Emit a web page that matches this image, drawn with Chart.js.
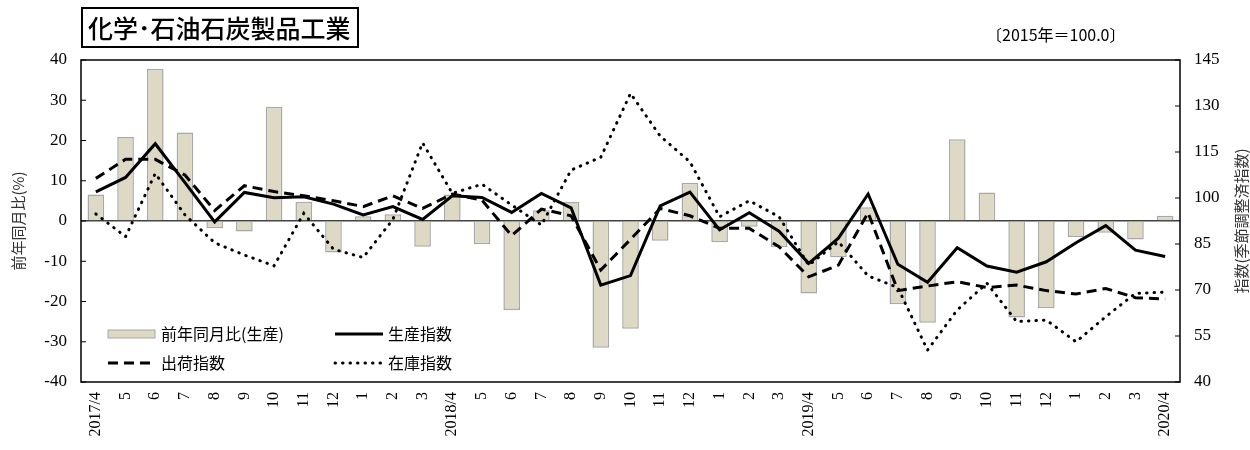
<!DOCTYPE html>
<html lang="ja">
<head>
<meta charset="utf-8">
<script src="https://cdn.jsdelivr.net/npm/chart.js@4.4.1/dist/chart.umd.min.js"></script>
<style>
  body { margin: 0; background: #fff; }
  #wrap { position: relative; width: 1250px; height: 450px; }
  #title {
    position: absolute; left: 81px; top: 7px; height: 37px; padding: 0 6px 0 5px;
    border: 2px solid #000; font-family: "Noto Sans CJK JP", sans-serif;
    font-size: 25px; line-height: 37px; font-weight: 500; color: #000;
  }
  #base {
    position: absolute; left: 986px; top: 22px;
    font-family: "Noto Sans CJK JP", sans-serif; font-size: 16px; color: #000;
  }
</style>
</head>
<body>
<div id="wrap">
  <canvas id="chart" width="1250" height="450"></canvas>
  <div id="title">化学･石油石炭製品工業</div>
  <div id="base">〔2015年＝100.0〕</div>
</div>
<script>
const months = ['2017/4', '5', '6', '7', '8', '9', '10', '11', '12', '1', '2', '3',
  '2018/4', '5', '6', '7', '8', '9', '10', '11', '12', '1', '2', '3',
  '2019/4', '5', '6', '7', '8', '9', '10', '11', '12', '1', '2', '3', '2020/4'];

// 前年同月比(生産) %
const yoyProduction = [6.6, 20.9, 37.8, 22.0, -1.8, -2.6, 28.4, 4.8, -7.8, 1.2, 1.7, -6.4,
  6.6, -5.8, -22.1, 2.7, 4.7, -31.5, -26.8, -4.9, 9.5, -5.3, -1.4, -6.5,
  -18.0, -9.0, 3.4, -20.7, -25.3, 20.3, 7.1, -24.0, -21.7, -4.0, -2.9, -4.6, 1.3];

// 指数 (季節調整済)
const productionIndex = [102.0, 106.7, 117.7, 105.0, 92.2, 101.8, 100.1, 100.4, 98.0, 94.5, 97.2, 93.0,
  100.7, 100.2, 95.3, 101.5, 96.8, 71.6, 74.7, 97.4, 101.9, 89.6, 95.2, 89.2,
  78.7, 86.9, 101.3, 78.4, 72.5, 83.8, 77.8, 75.8, 79.2, 85.4, 91.0, 83.0, 80.9];
const shipmentIndex = [106.4, 112.6, 112.6, 107.5, 95.9, 104.0, 102.1, 100.7, 99.1, 97.2, 100.7, 96.6,
  101.3, 99.3, 87.7, 96.4, 94.2, 76.5, 86.5, 96.6, 94.2, 90.1, 90.1, 84.1,
  74.3, 78.1, 95.2, 69.8, 71.3, 72.7, 70.8, 71.6, 69.8, 68.7, 70.5, 67.5, 67.1];
const inventoryIndex = [94.8, 87.4, 108.0, 94.5, 85.4, 81.4, 77.9, 95.0, 83.3, 80.6, 93.0, 118.0,
  101.5, 104.5, 97.7, 91.2, 109.1, 113.3, 134.1, 120.2, 111.8, 93.9, 99.1, 93.9,
  78.1, 85.7, 74.6, 70.8, 50.4, 63.5, 72.2, 59.7, 60.2, 53.1, 61.3, 68.9, 69.3];

const BAR_FILL = '#ddd9c4';
const BAR_EDGE = '#a8a8a8';
const SERIF = '"Liberation Serif", "DejaVu Serif", serif';
const JP = '"Noto Sans CJK JP", sans-serif';

// frame, inward tick marks, right axis title and the legend inside the plot
const framePlugin = {
  id: 'frame',
  afterDatasetsDraw(chart) {
    const { ctx, chartArea: a, scales } = chart;
    ctx.save();
    ctx.strokeStyle = '#000';
    ctx.lineWidth = 1.5;
    ctx.strokeRect(a.left, a.top, a.right - a.left, a.bottom - a.top);

    ctx.lineWidth = 1;
    scales.y.ticks.forEach(t => {
      const y = scales.y.getPixelForValue(t.value);
      ctx.beginPath(); ctx.moveTo(a.left, y); ctx.lineTo(a.left + 5, y); ctx.stroke();
    });
    scales.y1.ticks.forEach(t => {
      const y = scales.y1.getPixelForValue(t.value);
      ctx.beginPath(); ctx.moveTo(a.right - 5, y); ctx.lineTo(a.right, y); ctx.stroke();
    });

    // right axis title, reading bottom to top like the left one
    ctx.save();
    ctx.translate(1241, (a.top + a.bottom) / 2);
    ctx.rotate(-Math.PI / 2);
    ctx.fillStyle = '#333';
    ctx.font = '15px ' + JP;
    ctx.textAlign = 'center';
    ctx.textBaseline = 'middle';
    ctx.fillText('指数(季節調整済指数)', 0, 0);
    ctx.restore();

    // legend
    const rows = [
      { x: 108, y: 334, kind: 'bar', text: '前年同月比(生産)' },
      { x: 335, y: 334, kind: 'line', dash: [], text: '生産指数' },
      { x: 108, y: 363, kind: 'line', dash: [10, 6], text: '出荷指数' },
      { x: 335, y: 363, kind: 'line', dash: [0.5, 7], cap: 'round', text: '在庫指数' }
    ];
    rows.forEach(r => {
      if (r.kind === 'bar') {
        ctx.fillStyle = BAR_FILL;
        ctx.strokeStyle = BAR_EDGE;
        ctx.lineWidth = 1;
        ctx.fillRect(r.x, r.y - 4, 47, 8);
        ctx.strokeRect(r.x, r.y - 4, 47, 8);
      } else {
        ctx.strokeStyle = '#000';
        ctx.lineWidth = 3;
        ctx.setLineDash(r.dash);
        ctx.lineCap = r.cap || 'butt';
        ctx.beginPath(); ctx.moveTo(r.x, r.y); ctx.lineTo(r.x + 48, r.y); ctx.stroke();
        ctx.setLineDash([]);
        ctx.lineCap = 'butt';
      }
      ctx.fillStyle = '#000';
      ctx.font = '16px ' + JP;
      ctx.textBaseline = 'middle';
      ctx.fillText(r.text, r.x + 53, r.y);
    });
    ctx.restore();
  }
};

const lineBase = {
  type: 'line',
  yAxisID: 'y1',
  borderColor: '#000',
  borderWidth: 3,
  pointRadius: 0,
  fill: false,
  tension: 0
};

new Chart(document.getElementById('chart').getContext('2d'), {
  data: {
    labels: months,
    datasets: [
      { ...lineBase, label: '在庫指数', data: inventoryIndex, borderDash: [0.5, 7], borderCapStyle: 'round', order: 3 },
      { ...lineBase, label: '出荷指数', data: shipmentIndex, borderDash: [10, 6], order: 2 },
      { ...lineBase, label: '生産指数', data: productionIndex, order: 1 },
      {
        type: 'bar',
        label: '前年同月比(生産)',
        data: yoyProduction,
        yAxisID: 'y',
        backgroundColor: BAR_FILL,
        borderColor: BAR_EDGE,
        borderWidth: 1.5,
        barPercentage: 0.56,
        categoryPercentage: 1,
        order: 4
      }
    ]
  },
  options: {
    responsive: false,
    animation: false,
    devicePixelRatio: 1,
    layout: { padding: { top: 60, left: 0, right: 0, bottom: 0 } },
    plugins: {
      legend: { display: false },
      tooltip: { enabled: false }
    },
    scales: {
      x: {
        grid: { display: false, drawTicks: false },
        border: { display: false },
        ticks: {
          maxRotation: 90, minRotation: 90, autoSkip: false, padding: 10,
          color: '#000', font: { family: SERIF, size: 16 }
        },
        afterFit(scale) { scale.height = 68; }
      },
      y: {
        position: 'left',
        min: -40, max: 40,
        ticks: { stepSize: 10, padding: 14, color: '#000', font: { family: SERIF, size: 17 } },
        grid: {
          drawTicks: false,
          lineWidth: 1.5,
          color: ctx => (ctx.tick && ctx.tick.value === 0 ? '#404040' : 'rgba(0,0,0,0)')
        },
        border: { display: false },
        title: {
          display: true, text: '前年同月比(%)', color: '#333',
          font: { family: JP, size: 15 }, padding: { top: 9, bottom: 0 }
        },
        afterFit(scale) { scale.width = 81; }
      },
      y1: {
        position: 'right',
        min: 40, max: 145,
        ticks: { stepSize: 15, padding: 14, color: '#000', font: { family: SERIF, size: 17 } },
        grid: { display: false, drawTicks: false },
        border: { display: false },
        afterFit(scale) { scale.width = 70; }
      }
    }
  },
  plugins: [framePlugin]
});
</script>
</body>
</html>
